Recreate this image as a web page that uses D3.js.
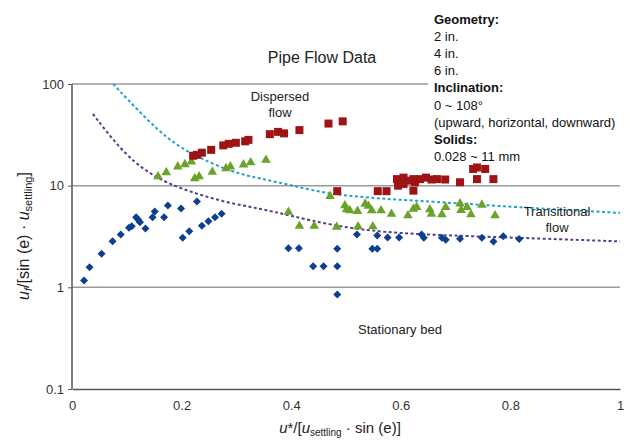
<!DOCTYPE html>
<html><head><meta charset="utf-8">
<script src="https://cdn.jsdelivr.net/npm/d3@7"></script>
<style>body{margin:0;background:#fff}svg{display:block;font-family:"Liberation Sans",Arial,sans-serif}</style>
</head><body>
<svg id="c" width="630" height="441"></svg>
<script>
// ---------- data ----------
const title = "Pipe Flow Data";
const xTicks = [0, 0.2, 0.4, 0.6, 0.8, 1];
const xTickLabels = ["0", "0.2", "0.4", "0.6", "0.8", "1"];
const yTicks = [0.1, 1, 10, 100];
const yTickLabels = ["0.1", "1", "10", "100"];
const legendLines = [
  ["Geometry:", true], ["2 in.", false], ["4 in.", false], ["6 in.", false],
  ["Inclination:", true], ["0 ~ 108°", false], ["(upward, horizontal, downward)", false],
  ["Solids:", true], ["0.028 ~ 11 mm", false]
];
// Stationary bed (blue diamonds)  [x, y]
const stationaryBed = [
  [0.022,1.17],[0.032,1.58],[0.054,2.14],[0.074,2.84],[0.089,3.31],[0.104,3.85],[0.109,3.99],
  [0.117,4.89],[0.121,4.61],[0.124,4.37],[0.134,3.79],[0.147,4.89],[0.151,5.56],[0.168,4.89],
  [0.175,6.37],[0.199,5.95],[0.228,6.97],[0.202,3.07],[0.214,3.56],[0.237,4.03],[0.249,4.47],
  [0.261,4.89],[0.273,5.28],[0.395,2.43],[0.414,2.43],[0.440,1.61],[0.459,1.61],[0.484,1.61],
  [0.484,2.40],[0.484,0.848],[0.520,3.31],[0.548,2.40],[0.557,2.40],[0.557,3.23],[0.576,3.09],
  [0.597,3.09],[0.638,3.31],[0.642,3.07],[0.675,3.07],[0.682,2.94],[0.708,3.00],[0.748,3.07],
  [0.769,2.83],[0.787,3.18],[0.816,2.98]
];
// Dispersed flow (red squares)
const dispersedFlow = [
  [0.221,19.7],[0.228,20.1],[0.237,21.1],[0.254,22.5],[0.276,24.9],[0.286,25.8],[0.299,26.4],
  [0.316,27.3],[0.322,28.2],[0.361,32.1],[0.376,33.8],[0.387,32.7],[0.415,35.2],[0.468,40.8],
  [0.494,42.9],[0.484,8.83],[0.558,8.83],[0.574,8.83],[0.593,11.6],[0.595,10.0],[0.605,12.0],
  [0.605,10.4],[0.614,11.2],[0.623,11.6],[0.623,8.93],[0.626,10.8],[0.635,11.6],[0.646,12.0],
  [0.656,11.5],[0.666,11.6],[0.681,11.5],[0.708,10.8],[0.732,14.6],[0.739,15.1],[0.754,14.6],
  [0.739,11.6],[0.769,11.6]
];
// Transitional flow (green triangles)
const transitionalFlow = [
  [0.157,12.3],[0.172,13.5],[0.193,15.4],[0.206,16.2],[0.218,17.2],[0.224,11.8],[0.232,12.3],
  [0.256,13.6],[0.281,14.8],[0.289,15.4],[0.313,16.1],[0.326,16.9],[0.354,17.9],
  [0.395,5.50],[0.415,4.01],[0.442,4.01],[0.483,3.92],[0.522,3.96],[0.549,3.96],
  [0.471,7.89],[0.498,6.37],[0.501,5.82],[0.507,5.69],[0.521,5.62],[0.535,6.62],[0.541,6.30],
  [0.547,5.69],[0.564,5.69],[0.583,5.26],[0.613,5.08],[0.623,5.91],[0.629,6.15],[0.653,5.82],
  [0.656,5.26],[0.675,5.20],[0.682,6.13],[0.708,6.66],[0.710,5.75],[0.721,6.13],[0.728,5.20],
  [0.748,6.47],[0.772,5.08]
];
// Boundary curves
const upperBoundary = [
  [0.075,100],[0.161,32.3],[0.215,20.6],[0.294,13.4],[0.343,11.8],[0.403,10.0],[0.471,8.2],
  [0.57,7.4],[0.653,7.0],[0.818,6.1],[1.0,5.4]
];
const lowerBoundary = [
  [0.038,50.8],[0.100,18.8],[0.161,11.2],[0.221,8.5],[0.283,6.8],[0.343,5.95],[0.398,5.08],
  [0.476,4.05],[0.568,3.46],[0.690,3.23],[0.854,3.02],[1.0,2.83]
];

// ---------- drawing ----------
const svg = d3.select("#c");
const x = d3.scaleLinear().domain([0, 1]).range([72, 620]);
const y = d3.scaleLog().domain([0.1, 100]).range([389, 84]);
const textCol = "#222";

// gridlines
svg.append("g").selectAll("line").data(yTicks.slice(1)).join("line")
  .attr("x1", x(0)).attr("x2", x(1)).attr("y1", d => y(d)).attr("y2", d => y(d))
  .attr("stroke", "#9a9a9a").attr("stroke-width", 1.5);

// legend background
svg.append("rect").attr("x", 428).attr("y", 0).attr("width", 202).attr("height", 170).attr("fill", "#fff");

// axes
const yAxis = d3.axisLeft(y).tickValues(yTicks).tickFormat((d, i) => yTickLabels[i]).tickSize(4).tickPadding(4);
const gy = svg.append("g").attr("transform", `translate(${x(0)},0)`).call(yAxis);
const xAxis = d3.axisBottom(x).tickValues(xTicks).tickFormat((d, i) => xTickLabels[i]).tickSize(0).tickPadding(12);
const gx = svg.append("g").attr("transform", `translate(0,${y(0.1)})`).call(xAxis);
[gx, gy].forEach(g => {
  g.select(".domain").attr("stroke", "#555").attr("stroke-width", 1.5);
  g.selectAll(".tick line").attr("stroke", "#555");
  g.selectAll("text").attr("font-size", 13).attr("fill", "#333").attr("font-family", '"Liberation Sans",Arial,sans-serif');
});
gy.select(".domain").attr("d", `M0,${y(100)}V${y(0.1)}`);

// curves
const line = d3.line().x(d => x(d[0])).y(d => y(d[1])).curve(d3.curveBasis);
svg.append("path").datum(upperBoundary).attr("d", line).attr("fill", "none")
  .attr("stroke", "#1fa3c9").attr("stroke-width", 2).attr("stroke-dasharray", "3,2.5");
svg.append("path").datum(lowerBoundary).attr("d", line).attr("fill", "none")
  .attr("stroke", "#5a3d8a").attr("stroke-width", 2).attr("stroke-dasharray", "3,2.5");

// markers
const sq = d3.symbol().type(d3.symbolSquare);
svg.append("g").selectAll("path").data(stationaryBed).join("path")
  .attr("d", sq.size(32)())
  .attr("transform", d => `translate(${x(d[0])},${y(d[1])}) rotate(45)`)
  .attr("fill", "#0d3f8f");
svg.append("g").selectAll("path").data(transitionalFlow).join("path")
  .attr("d", d3.symbol().type(d3.symbolTriangle).size(40)())
  .attr("transform", d => `translate(${x(d[0])},${y(d[1])})`)
  .attr("fill", "#6aa22a");
svg.append("g").selectAll("path").data(dispersedFlow).join("path")
  .attr("d", d3.symbol().type(d3.symbolSquare).size(64)())
  .attr("transform", d => `translate(${x(d[0])},${y(d[1])})`)
  .attr("fill", "#9e1414");

// title
svg.append("text").attr("x", 322).attr("y", 63).attr("text-anchor", "middle")
  .attr("font-size", 16).attr("fill", textCol).text(title);

// region labels
function label(lines, cx, cy) {
  const t = svg.append("text").attr("text-anchor", "middle").attr("font-size", 13).attr("fill", textCol);
  lines.forEach((s, i) => t.append("tspan").attr("x", cx).attr("y", cy + i * 16).text(s));
}
label(["Dispersed", "flow"], 280, 101);
label(["Transitional", "flow"], 557, 216);
label(["Stationary bed"], 400, 334);

// legend text
const lg = svg.append("text").attr("font-size", 13).attr("fill", "#111");
legendLines.forEach((l, i) => lg.append("tspan").attr("x", 434).attr("y", 24 + i * 17.1)
  .attr("font-weight", l[1] ? "bold" : "normal").text(l[0]));

// axis titles
const xt = svg.append("text").attr("x", 340).attr("y", 433).attr("text-anchor", "middle")
  .attr("font-size", 15).attr("fill", textCol);
xt.append("tspan").attr("font-style", "italic").text("u");
xt.append("tspan").text("*/[");
xt.append("tspan").attr("font-style", "italic").text("u");
xt.append("tspan").attr("font-size", 10).attr("dy", 3).text("settling");
xt.append("tspan").attr("dy", -3).text(" · sin (e)]");

const yt = svg.append("text").attr("transform", "translate(29,236) rotate(-90)").attr("text-anchor", "middle")
  .attr("font-size", 16).attr("fill", textCol);
yt.append("tspan").attr("font-style", "italic").text("u");
yt.append("tspan").attr("font-size", 11).attr("dy", 3).attr("font-style", "italic").text("f");
yt.append("tspan").attr("dy", -3).text("/[sin (e) · ");
yt.append("tspan").attr("font-style", "italic").text("u");
yt.append("tspan").attr("font-size", 11).attr("dy", 3).text("settling");
yt.append("tspan").attr("dy", -3).text("]");
</script>
</body></html>
